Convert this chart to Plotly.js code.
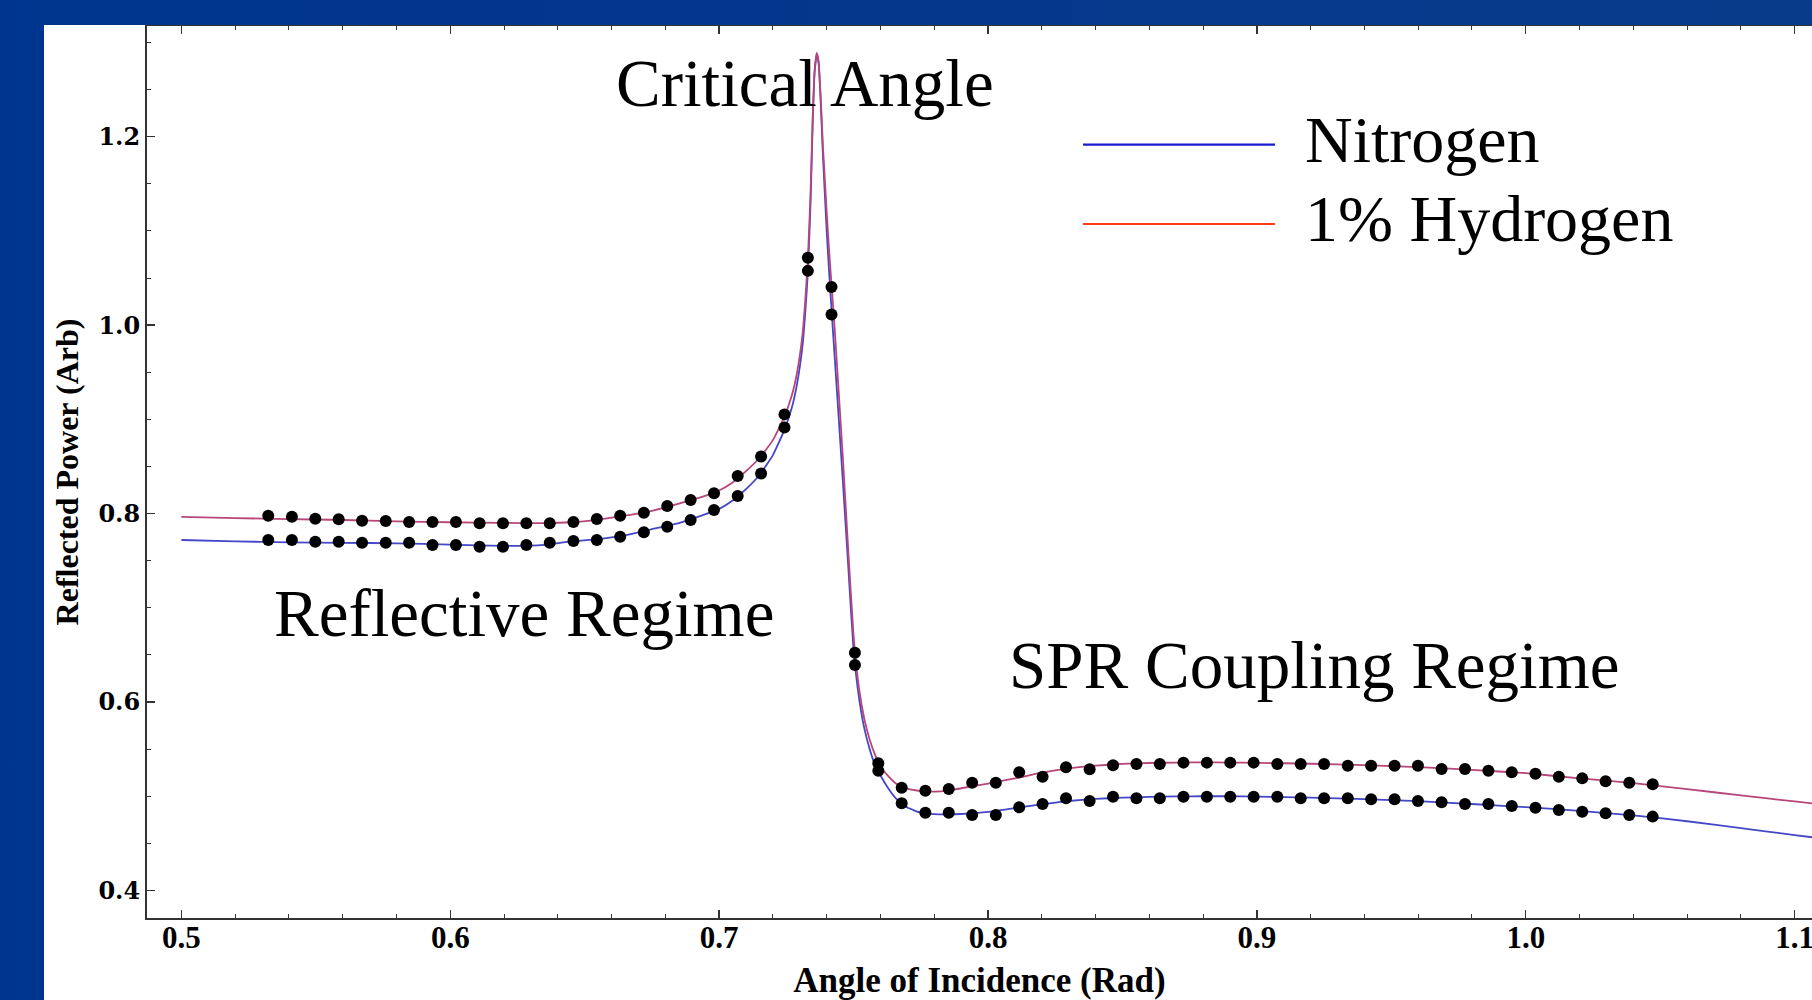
<!DOCTYPE html>
<html>
<head>
<meta charset="utf-8">
<script src="https://cdn.plot.ly/plotly-3.0.1.min.js"></script>
<style>
  html, body { margin: 0; padding: 0; width: 1812px; height: 1000px; overflow: hidden;
    background: linear-gradient(to right, #00358f, #083b8a); }
  #chart { position: absolute; left: 44px; top: 25px; width: 1768px; height: 975px; background: #fff; }
</style>
</head>
<body>
<div id="chart"></div>
<script>
// ---- measured data (angle of incidence in rad) ----
const angleData = [0.5323,0.5411,0.5498,0.5585,0.5672,0.5760,0.5847,0.5934,0.6021,0.6109,
  0.6196,0.6283,0.6370,0.6458,0.6545,0.6632,0.6720,0.6807,0.6894,0.6981,
  0.7069,0.7156,0.7243,0.7330,0.7418,0.7505,0.7592,0.7679,0.7767,0.7854,
  0.7941,0.8029,0.8116,0.8203,0.8290,0.8378,0.8465,0.8552,0.8639,0.8727,
  0.8814,0.8901,0.8988,0.9076,0.9163,0.9250,0.9338,0.9425,0.9512,0.9599,
  0.9687,0.9774,0.9861,0.9948,1.0036,1.0123,1.0210,1.0297,1.0385,1.0472];

const hydrogenData = [0.7978,0.7967,0.7946,0.7939,0.7925,0.7921,0.7911,0.7911,0.7911,0.7897,
  0.7897,0.7897,0.7897,0.7911,0.7943,0.7978,0.8010,0.8081,0.8144,0.8215,
  0.8399,0.8605,0.9053,1.0715,1.0406,0.6522,0.5350,0.5091,0.5059,0.5077,
  0.5144,0.5144,0.5254,0.5208,0.5307,0.5286,0.5328,0.5343,0.5343,0.5357,
  0.5357,0.5357,0.5357,0.5343,0.5343,0.5343,0.5323,0.5325,0.5325,0.5325,
  0.5289,0.5289,0.5272,0.5254,0.5240,0.5208,0.5190,0.5159,0.5144,0.5127];

const nitrogenData = [0.7720,0.7720,0.7702,0.7702,0.7691,0.7691,0.7691,0.7667,0.7667,0.7649,
  0.7649,0.7667,0.7691,0.7709,0.7720,0.7755,0.7801,0.7861,0.7932,0.8038,
  0.8187,0.8426,0.8914,1.0576,1.0113,0.6393,0.5272,0.4925,0.4826,0.4826,
  0.4801,0.4801,0.4883,0.4918,0.4978,0.4950,0.4996,0.4978,0.4978,0.4996,
  0.4996,0.4996,0.4996,0.4996,0.4978,0.4978,0.4978,0.4968,0.4968,0.4950,
  0.4936,0.4918,0.4918,0.4897,0.4879,0.4854,0.4836,0.4819,0.4801,0.4784];

// ---- theory curves ----
const curveX = [0.50,0.52,0.54,0.56,0.58,0.60,0.62,0.635,0.645,0.655,
  0.665,0.675,0.685,0.695,0.70,0.705,0.71,0.715,0.72,0.724,
  0.727,0.729,0.731,0.732,0.733,0.734,0.7348,0.7355,0.7363,0.737,
  0.7378,0.7386,0.7393,0.740,0.741,0.742,0.743,0.744,0.746,0.748,
  0.750,0.752,0.754,0.756,0.758,0.760,0.763,0.766,0.770,0.775,
  0.780,0.785,0.79,0.80,0.81,0.82,0.83,0.84,0.85,0.86,
  0.87,0.88,0.89,0.90,0.92,0.94,0.96,0.98,1.00,1.02,
  1.04,1.06,1.08,1.10,1.11];

const hydrogenCurve = [0.7965,0.7952,0.7942,0.7932,0.7918,0.7908,0.7902,0.7898,0.7908,0.7937,
  0.7978,0.8030,0.8105,0.8190,0.8245,0.8330,0.8450,0.8590,0.8780,0.9010,
  0.9250,0.9500,0.9900,1.0250,1.0700,1.1400,1.2200,1.2700,1.2890,1.2800,
  1.2400,1.1900,1.1550,1.1200,1.0750,1.0350,0.9950,0.9500,0.8600,0.7620,
  0.6700,0.6150,0.5820,0.5600,0.5440,0.5320,0.5210,0.5130,0.5080,0.5055,
  0.5050,0.5060,0.5085,0.5135,0.5190,0.5250,0.5295,0.5325,0.5343,0.5353,
  0.5358,0.5360,0.5358,0.5355,0.5345,0.5330,0.5310,0.5280,0.5245,0.5190,
  0.5140,0.5075,0.5010,0.4945,0.4912];

const nitrogenCurve = [0.7720,0.7705,0.7695,0.7690,0.7685,0.7670,0.7657,0.7668,0.7705,0.7730,
  0.7770,0.7835,0.7900,0.7995,0.8050,0.8140,0.8260,0.8410,0.8620,0.8870,
  0.9120,0.9380,0.9780,1.0120,1.0560,1.1300,1.2150,1.2680,1.2880,1.2780,
  1.2350,1.1800,1.1400,1.1000,1.0520,1.0080,0.9650,0.9220,0.8350,0.7450,
  0.6550,0.6050,0.5720,0.5500,0.5330,0.5220,0.5080,0.4970,0.4880,0.4825,
  0.4810,0.4808,0.4812,0.4835,0.4875,0.4915,0.4950,0.4972,0.4985,0.4993,
  0.4998,0.5000,0.5000,0.4996,0.4985,0.4970,0.4948,0.4918,0.4885,0.4845,
  0.4798,0.4735,0.4662,0.4588,0.4552];

const seriesNames = ['Nitrogen', '1% Hydrogen'];
const xTickVals = [0.5,0.6,0.7,0.8,0.9,1.0,1.1];
const xTickText = ['0.5','0.6','0.7','0.8','0.9','1.0','1.1'];
const yTickVals = [0.4,0.6,0.8,1.0,1.2];
const yTickText = ['0.4','0.6','0.8','1.0','1.2'];

const serif = '"Liberation Serif", "Times New Roman", serif';

const traces = [
  { x: curveX, y: nitrogenCurve, mode: 'lines', name: seriesNames[0],
    line: { color: '#4646c8', width: 1.8, shape: 'spline', smoothing: 0.4 }, hoverinfo: 'skip' },
  { x: curveX, y: hydrogenCurve, mode: 'lines', name: seriesNames[1],
    line: { color: '#b8467a', width: 1.8, shape: 'spline', smoothing: 0.4 }, hoverinfo: 'skip' },
  { x: angleData, y: nitrogenData, mode: 'markers', name: 'Nitrogen data',
    marker: { color: '#000', size: 12 } },
  { x: angleData, y: hydrogenData, mode: 'markers', name: 'Hydrogen data',
    marker: { color: '#000', size: 12 } }
];

const axisLine = '#333';
const layout = {
  width: 1768, height: 975,
  margin: { l: 103, r: 0, t: 1, b: 82 },
  paper_bgcolor: '#ffffff', plot_bgcolor: '#ffffff',
  showlegend: false,
  xaxis: {
    range: [0.48721, 1.10646], showgrid: false, zeroline: false,
    showline: true, linecolor: axisLine, linewidth: 2, mirror: 'allticks',
    ticks: 'inside', ticklen: 8, tickwidth: 1.3, tickcolor: axisLine,
    tickvals: xTickVals, ticktext: xTickText,
    ticklabeloverflow: 'allow', ticklabelstandoff: -9,
    minor: { dtick: 0.02, tick0: 0.5, ticks: 'inside', ticklen: 4, tickwidth: 1, tickcolor: axisLine, showgrid: false },
    tickfont: { family: serif, size: 31, color: '#000', weight: 'bold' },
    title: { text: '<b>Angle of Incidence (Rad)</b>', standoff: 17,
      font: { family: serif, size: 35, color: '#000' } }
  },
  yaxis: {
    range: [0.37081, 1.31748], showgrid: false, zeroline: false,
    showline: true, linecolor: axisLine, linewidth: 2, mirror: false,
    ticks: 'inside', ticklen: 8, tickwidth: 1.3, tickcolor: axisLine,
    tickvals: yTickVals, ticktext: yTickText,
    minor: { dtick: 0.05, tick0: 0.4, ticks: 'inside', ticklen: 4, tickwidth: 1, tickcolor: axisLine, showgrid: false },
    tickfont: { family: '"DejaVu Serif", serif', size: 24, color: '#000', weight: 'bold' },
    title: { text: '<b>Reflected Power (Arb)</b>', standoff: 10,
      font: { family: serif, size: 32, color: '#000' } }
  },
  annotations: [
    { text: 'Critical Angle', x: 0.7319, y: 1.257, xref: 'x', yref: 'y', showarrow: false,
      xanchor: 'center', yanchor: 'middle', font: { family: serif, size: 67, color: '#000' } },
    { text: 'Reflective Regime', x: 0.6276, y: 0.6945, xref: 'x', yref: 'y', showarrow: false,
      xanchor: 'center', yanchor: 'middle', font: { family: serif, size: 67, color: '#000' } },
    { text: 'SPR Coupling Regime', x: 0.9216, y: 0.6393, xref: 'x', yref: 'y', showarrow: false,
      xanchor: 'center', yanchor: 'middle', font: { family: serif, size: 67, color: '#000' } },
    { text: seriesNames[0], x: 0.6943, y: 0.8722, xref: 'paper', yref: 'paper', showarrow: false,
      xanchor: 'left', yanchor: 'middle', font: { family: serif, size: 66, color: '#000' } },
    { text: seriesNames[1], x: 0.6943, y: 0.7842, xref: 'paper', yref: 'paper', showarrow: false,
      xanchor: 'left', yanchor: 'middle', font: { family: serif, size: 66, color: '#000' } }
  ],
  shapes: [
    { type: 'line', xref: 'paper', yref: 'paper', x0: 0.5622, x1: 0.6775, y0: 0.8671, y1: 0.8671,
      line: { color: '#1a1ad0', width: 2.2 } },
    { type: 'line', xref: 'paper', yref: 'paper', x0: 0.5622, x1: 0.6775, y0: 0.7780, y1: 0.7780,
      line: { color: '#ff3c14', width: 2.2 } }
  ]
};

Plotly.newPlot('chart', traces, layout, { displayModeBar: false, staticPlot: true });
</script>
</body>
</html>
